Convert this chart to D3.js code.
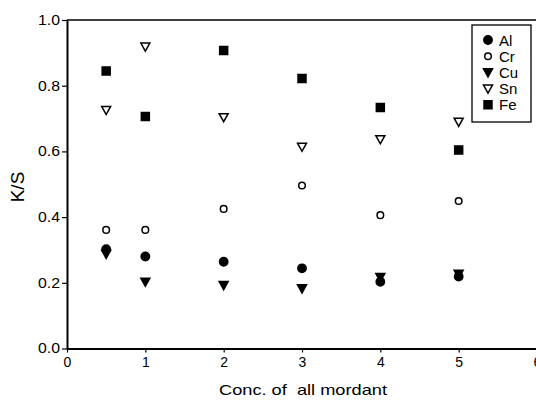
<!DOCTYPE html>
<html><head><meta charset="utf-8">
<script src="https://cdn.jsdelivr.net/npm/d3@7"></script>
<style>body{margin:0;background:#fff}svg{display:block}text{font-family:"Liberation Sans",Arial,sans-serif;fill:#000}</style>
</head><body>
<script>
const concs = [0.5, 1, 2, 3, 4, 5];
const seriesNames = ["Al", "Cr", "Cu", "Sn", "Fe"];
const alValues = [0.302, 0.280, 0.264, 0.244, 0.203, 0.219];
const crValues = [0.361, 0.361, 0.425, 0.496, 0.406, 0.449];
const cuValues = [0.288, 0.203, 0.193, 0.183, 0.217, 0.227];
const snValues = [0.726, 0.919, 0.704, 0.614, 0.637, 0.690];
const feValues = [0.845, 0.706, 0.907, 0.822, 0.734, 0.604];
const xTicks = [0, 1, 2, 3, 4, 5, 6];
const yTicks = [0.0, 0.2, 0.4, 0.6, 0.8, 1.0];

const W = 536, H = 401;
const svg = d3.select("body").append("svg").attr("width", W).attr("height", H);
const x = d3.scaleLinear().domain([0, 6]).range([67, 537]);
const y = d3.scaleLinear().domain([0, 1]).range([348.5, 20]);

// frame top
svg.append("line").attr("x1", x(0)).attr("x2", x(6)).attr("y1", y(1)).attr("y2", y(1)).attr("stroke", "#000").attr("stroke-width", 1.5);

const xAxis = svg.append("g").attr("transform", `translate(0,${y(0)})`)
  .call(d3.axisBottom(x).tickValues(xTicks).tickFormat(d3.format("d")).tickSize(4).tickSizeOuter(0).tickPadding(5));
const yAxis = svg.append("g").attr("transform", `translate(${x(0)},0)`)
  .call(d3.axisLeft(y).tickValues(yTicks).tickFormat(d3.format(".1f")).tickSize(5).tickSizeOuter(0).tickPadding(2));
[xAxis, yAxis].forEach(g => {
  g.select(".domain").attr("stroke", "#000").attr("stroke-width", 2);
  g.selectAll(".tick line").attr("stroke", "#000").attr("stroke-width", 1.2);
  g.selectAll(".tick text").attr("font-size", 14).attr("fill", "#000").attr("font-family", '"Liberation Sans",Arial,sans-serif');
});
yAxis.selectAll(".tick text").attr("textLength", 22).attr("lengthAdjust", "spacingAndGlyphs");

svg.append("text").attr("x", 219).attr("y", 395).attr("font-size", 14.5)
  .attr("textLength", 168).attr("lengthAdjust", "spacingAndGlyphs").style("white-space", "pre").text("Conc. of  all mordant");
svg.append("text").attr("transform", "translate(24,187) rotate(-90)").attr("text-anchor", "middle").attr("font-size", 19).text("K/S");

const sym = {
  Al: {type: d3.symbolCircle, size: 55, fill: "#000"},
  Cr: {type: d3.symbolCircle, size: 34, fill: "#fff"},
  Cu: {type: "tri", s: 9, fill: "#000"},
  Sn: {type: "tri", s: 9, fill: "#fff"},
  Fe: {type: d3.symbolSquare, size: 64, fill: "#000"}
};
const triPath = s => `M${-s/2},${-s*0.4}L${s/2},${-s*0.4}L0,${s*0.5}Z`;
function drawMarker(g, name) {
  const m = sym[name];
  const p = m.type === "tri" ? triPath(m.s) : d3.symbol().type(m.type).size(m.size)();
  g.append("path").attr("d", p).attr("fill", m.fill).attr("stroke", "#000").attr("stroke-width", 1.5);
}
const data = {Al: alValues, Cr: crValues, Cu: cuValues, Sn: snValues, Fe: feValues};
const order = ["Cr", "Sn", "Fe", "Cu", "Al"];
order.forEach(name => {
  data[name].forEach((v, i) => {
    const g = svg.append("g").attr("transform", `translate(${x(concs[i])},${y(v)})`);
    drawMarker(g, name);
  });
});

// legend
const lg = svg.append("g");
lg.append("rect").attr("x", 472).attr("y", 25).attr("width", 59).attr("height", 97).attr("fill", "#fff").attr("stroke", "#000").attr("stroke-width", 1.3);
seriesNames.forEach((name, i) => {
  const yy = 40 + i * 16.2;
  const g = lg.append("g").attr("transform", `translate(488,${yy})`);
  drawMarker(g, name);
  lg.append("text").attr("x", 499).attr("y", yy + 5.5).attr("font-size", 15).text(name);
});
</script>
</body></html>
